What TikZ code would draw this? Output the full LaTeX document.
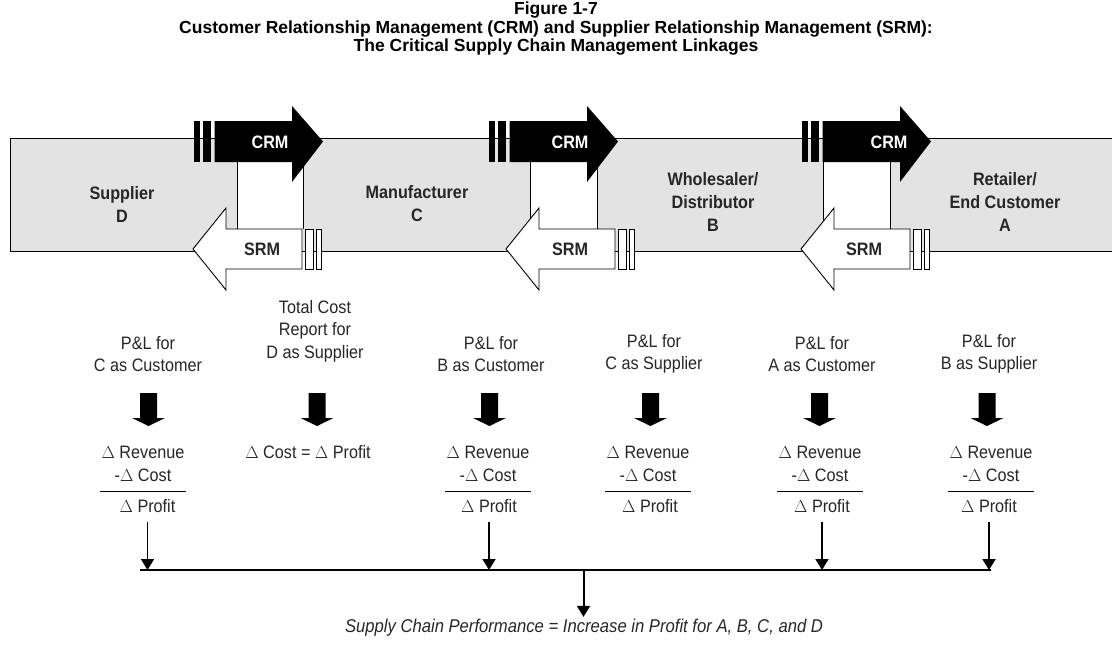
\documentclass[tikz,border=0pt]{standalone}
\usepackage{fontspec}
\setmainfont{Liberation Sans}[FakeStretch=0.9]
\newfontfamily\titlefam{Liberation Sans}
\usetikzlibrary{arrows.meta}
\definecolor{bandgray}{RGB}{227,227,227}
\begin{document}
\begin{tikzpicture}[x=1pt,y=-1pt,
  titlefont/.style={font=\titlefam\bfseries\fontsize{17.5}{18.5}\selectfont},
  bandlbl/.style={font=\bfseries\fontsize{18}{23}\selectfont, align=center, text=black!85},
  arrlbl/.style={font=\bfseries\fontsize{18}{20}\selectfont},
  txt/.style={font=\fontsize{18}{22.5}\selectfont, align=center, text=black!85, inner sep=0pt},
  thinarrow/.style={line width=1.8pt, -{Triangle[width=13pt,length=11pt]}},
  mainarrow/.style={line width=2pt, -{Triangle[width=13pt,length=11pt]}},
  outline/.style={line width=0.9pt}]
\useasboundingbox (0,0) rectangle (1112,653);

% title
\node[titlefont, align=center] (title) at (556,29)
  {Figure 1-7\\Customer Relationship Management (CRM) and Supplier Relationship Management (SRM):\\The Critical Supply Chain Management Linkages};

% band
\fill[bandgray] (10,138) rectangle (1113,251);
\draw[outline] (1113,138) -- (10,138) -- (10,251) -- (1113,251);

% linkage groups
\foreach \b/\l/\r/\s/\cx/\sx [count=\i] in {194/237/303/193/270/262, 489/530/597/506/570/570, 802/823/890/801/889/864}{
  % white gap between the arrows
  \fill[white] (\l,138.5) rectangle (\r,250.5);
  \draw[outline] (\l,162) -- (\l,229);
  \draw[outline] (\r,162) -- (\r,229);
  % CRM arrow
  \fill[black] (\b,121) rectangle ({\b+5.5},162);
  \fill[black] ({\b+9},121) rectangle ({\b+17},162);
  \fill[black] ({\b+20.5},121) -- ({\b+98},121) -- ({\b+98},106) -- ({\b+129},141.5)
     -- ({\b+98},182) -- ({\b+98},162) -- ({\b+20.5},162) -- cycle;
  \node[arrlbl, text=white] (crm\i) at (\cx,142) {CRM};
  % SRM arrow
  \filldraw[fill=white, draw=black, outline] (\s,249) -- ({\s+33},208) -- ({\s+33},229)
     -- ({\s+109},229) -- ({\s+109},269) -- ({\s+33},269) -- ({\s+33},290) -- cycle;
  \filldraw[fill=white, draw=black, outline] ({\s+112},229) rectangle ({\s+120},269);
  \filldraw[fill=white, draw=black, outline] ({\s+123.5},229) rectangle ({\s+128.5},269);
  \node[arrlbl, text=black!85] (srm\i) at (\sx,249) {SRM};
}

% band labels
\node[bandlbl] (D) at (122,204) {Supplier\\D};
\node[bandlbl] (C) at (417,204) {Manufacturer\\C};
\node[bandlbl] (B) at (713,202) {Wholesaler/\\Distributor\\B};
\node[bandlbl] (A) at (1005,202) {Retailer/\\End Customer\\A};

% reports
\node[txt] (r1) at (148,354) {P\&L for\\C as Customer};
\node[txt] (r2) at (315,331) {Total Cost\\Report for\\D as Supplier};
\node[txt] (r3) at (491,354) {P\&L for\\B as Customer};
\node[txt] (r4) at (654,354) {P\&L for\\C as Supplier};
\node[txt] (r5) at (822,354) {P\&L for\\A as Customer};
\node[txt] (r6) at (989,354) {P\&L for\\B as Supplier};

% block arrows
\foreach \x in {148.5,317,489.5,650.5,819.5,987}{
  \fill[black] ({\x-8.5},393) -- ({\x+8.5},393) -- ({\x+8.5},418) -- ({\x+16.5},418)
     -- (\x,426) -- ({\x-16.5},418) -- ({\x-8.5},418) -- cycle;
}

% results
\node[txt] (e2) at (308,452) {$\Delta$ Cost = $\Delta$ Profit};
\foreach \x/\px/\n in {143/147.5/1, 488/489/3, 648/650/4, 820/822/5, 991/989/6}{
  \node[txt] (v\n) at (\x,464) {$\Delta$ Revenue\\-$\Delta$ Cost};
  \draw[line width=0.8pt] ({\x-43},491) -- ({\x+43},491);
  \node[txt] (p\n) at (\px,506) {$\Delta$ Profit};
}

% bus
\coordinate (bus) at (0,570);
\draw[line width=2pt] (140,570) -- (991,570);
\foreach \n in {1,3,5,6}{
  \draw[thinarrow] ([yshift=-9pt]p\n.south) -- (p\n.south |- bus);
}
\coordinate (busmid) at (583.5,570);
\node[font=\itshape\fontsize{18.5}{22}\selectfont, text=black!85] (perf) at (584,628)
  {Supply Chain Performance = Increase in Profit for A, B, C, and D};
\draw[mainarrow] (busmid) -- ([yshift=-1pt]perf.north -| busmid);
\end{tikzpicture}
\end{document}
